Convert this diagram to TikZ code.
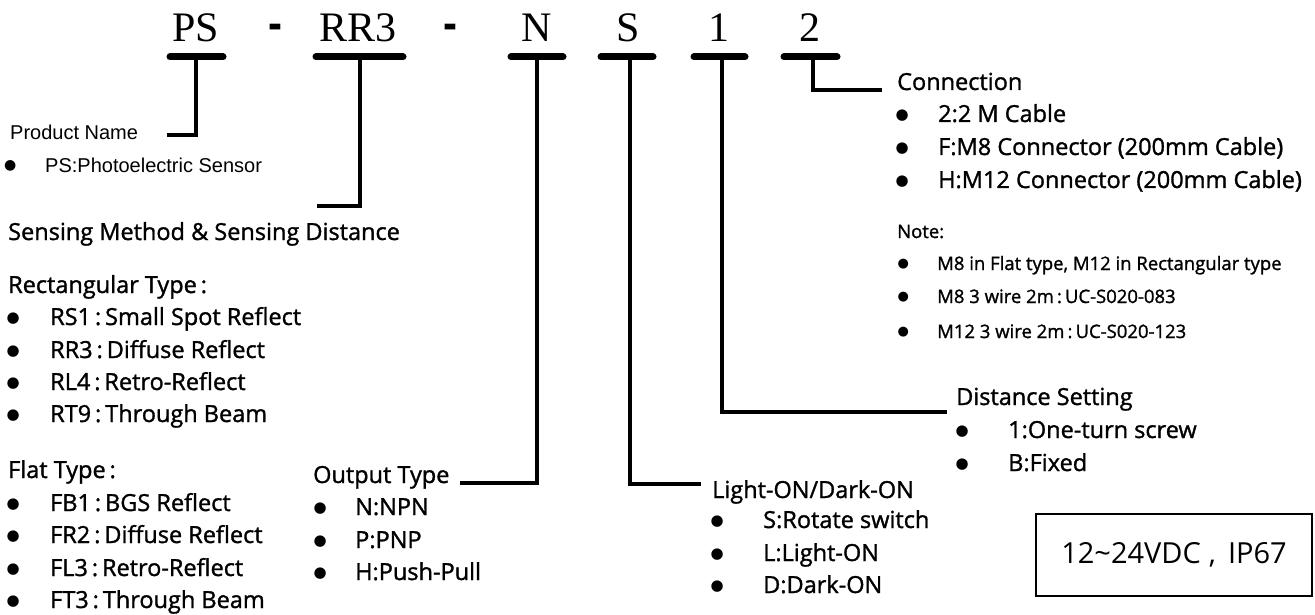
\documentclass[tikz,border=0pt]{standalone}
\usepackage{fontspec}
\setmainfont{Open Sans}
\newfontfamily\semif{Open Sans}[FakeBold=1.3]
\newfontfamily\arialf{Liberation Sans}
\newfontfamily\timesf{Liberation Serif}
\newfontfamily\bulf{DejaVu Sans}
% bullet centred on the node origin, then gap, then text
\newcommand\bitem[3][15]{\makebox[0pt]{\raisebox{2.6pt}{\bulf\fontsize{#1}{#1}\selectfont ●}}\hspace{#2}#3}
\begin{document}
\begin{tikzpicture}[x=1pt,y=-1pt,
  codech/.style={inner sep=0pt, anchor=base, font=\timesf\fontsize{42}{46}\selectfont},
  dashch/.style={inner sep=0pt, anchor=base, font=\arialf\bfseries\fontsize{40}{44}\selectfont},
  bar/.style={line width=7pt, line cap=round},
  conn/.style={line width=4pt, line join=miter},
  lab/.style={inner sep=0pt, anchor=base west, font=\semif\fontsize{23.5}{28}\selectfont},
  notelab/.style={inner sep=0pt, anchor=base west, font=\semif\fontsize{18.5}{22}\selectfont},
  alab/.style={inner sep=0pt, anchor=base west, font=\arialf\fontsize{20}{24}\selectfont},
  specbox/.style={draw, line width=2.5pt, inner sep=0pt, minimum width=276pt, minimum height=82pt, font=\fontsize{29}{33}\selectfont}
]
\useasboundingbox (0,0) rectangle (1315,615);
% code letters
\node[codech] (cPS) at (196,42) {PS};
\node[dashch] (d1) at (275,40) {\scalebox{1.05}[1.2]{-}};
\node[codech] (cRR) at (358,42) {RR3};
\node[dashch] (d2) at (450,40) {\scalebox{1.05}[1.2]{-}};
\node[codech] (cN) at (537,42) {N};
\node[codech] (cS) at (628,42) {S};
\node[codech] (c1) at (719,42) {1};
\node[codech] (c2) at (810,42) {2};
% bars
\coordinate (psL) at (170,57); \coordinate (psR) at (223,57); \coordinate (psM) at (196,57);
\coordinate (rrL) at (316,57); \coordinate (rrR) at (403,57); \coordinate (rrM) at (360,57);
\coordinate (nL) at (511,57); \coordinate (nR) at (563,57); \coordinate (nM) at (537,57);
\coordinate (sL) at (601,57); \coordinate (sR) at (653,57); \coordinate (sM) at (630,57);
\coordinate (oL) at (694,57); \coordinate (oR) at (745,57); \coordinate (oM) at (722,57);
\coordinate (tL) at (784,57); \coordinate (tR) at (837,57); \coordinate (tM) at (813,57);
\foreach \a/\b in {psL/psR,rrL/rrR,nL/nR,sL/sR,oL/oR,tL/tR} \draw[bar] (\a) -- (\b);
% connector ends
\coordinate (psE) at (167,135);
\coordinate (rrE) at (317,206);
\coordinate (nE) at (460,483);
\coordinate (sE) at (701,484);
\coordinate (oE) at (947,412);
\coordinate (tE) at (882,90);
\draw[conn] (psM) |- (psE);
\draw[conn] (rrM) |- (rrE);
\draw[conn] (nM) |- (nE);
\draw[conn] (sM) |- (sE);
\draw[conn] (oM) |- (oE);
\draw[conn] (tM) |- (tE);
% product name
\node[alab] (pn) at (10,140) {Product Name};
\node[alab] (pn1) at (10,172) {\bitem[14]{35pt}{PS:Photoelectric Sensor}};
% sensing method
\node[lab] (sm) at (8,240) {Sensing Method \& Sensing Distance};
\node[lab] (rt) at (8,293) {Rectangular Type\,:};
\node[lab] (r1) at (13,325) {\bitem{37pt}{RS1\,:\,Small Spot Reflect}};
\node[lab] (r2) at (13,358) {\bitem{37pt}{RR3\,:\,Diffuse Reflect}};
\node[lab] (r3) at (13,390) {\bitem{37pt}{RL4\,:\,Retro-Reflect}};
\node[lab] (r4) at (13,422) {\bitem{37pt}{RT9\,:\,Through Beam}};
\node[lab] (ft) at (8,478) {Flat Type\,:};
\node[lab] (f1) at (13,511) {\bitem{37pt}{FB1\,:\,BGS Reflect}};
\node[lab] (f2) at (13,543) {\bitem{37pt}{FR2\,:\,Diffuse Reflect}};
\node[lab] (f3) at (13,576) {\bitem{37pt}{FL3\,:\,Retro-Reflect}};
\node[lab] (f4) at (13,608) {\bitem{37pt}{FT3\,:\,Through Beam}};
% output type
\node[lab] (ot) at (313,483) {Output Type};
\node[lab] (o1) at (320,515) {\bitem{35pt}{N:NPN}};
\node[lab] (o2) at (320,548) {\bitem{35pt}{P:PNP}};
\node[lab] (o3) at (320,580) {\bitem{35pt}{H:Push-Pull}};
% light on
\node[lab] (lo) at (712,498) {Light-ON/Dark-ON};
\node[lab] (l1) at (717,528) {\bitem{46pt}{S:Rotate switch}};
\node[lab] (l2) at (717,561) {\bitem{46pt}{L:Light-ON}};
\node[lab] (l3) at (717,593) {\bitem{46pt}{D:Dark-ON}};
% distance
\node[lab] (ds) at (956,405) {Distance Setting};
\node[lab] (ds1) at (962,438) {\bitem{46pt}{1:One-turn screw}};
\node[lab] (ds2) at (962,471) {\bitem{46pt}{B:Fixed}};
% connection
\node[lab] (cn) at (897,90) {Connection};
\node[lab] (cn1) at (902,122) {\bitem{36pt}{2:2 M Cable}};
\node[lab] (cn2) at (902,155) {\bitem{36pt}{F:M8 Connector (200mm Cable)}};
\node[lab] (cn3) at (902,188) {\bitem{36pt}{H:M12 Connector (200mm Cable)}};
\node[notelab] (nt) at (897,238) {Note:};
\node[notelab] (nt1) at (903,270) {\bitem[13]{34pt}{M8 in Flat type, M12 in Rectangular type}};
\node[notelab] (nt2) at (903,303) {\bitem[13]{34pt}{M8 3 wire 2m\,:\,UC-S020-083}};
\node[notelab] (nt3) at (903,338) {\bitem[13]{34pt}{M12 3 wire 2m\,:\,UC-S020-123}};
% spec box
\node[specbox] (spec) at (1174,555) {12\textasciitilde24VDC\hspace{8pt},\hspace{12pt}IP67};
\end{tikzpicture}
\end{document}
